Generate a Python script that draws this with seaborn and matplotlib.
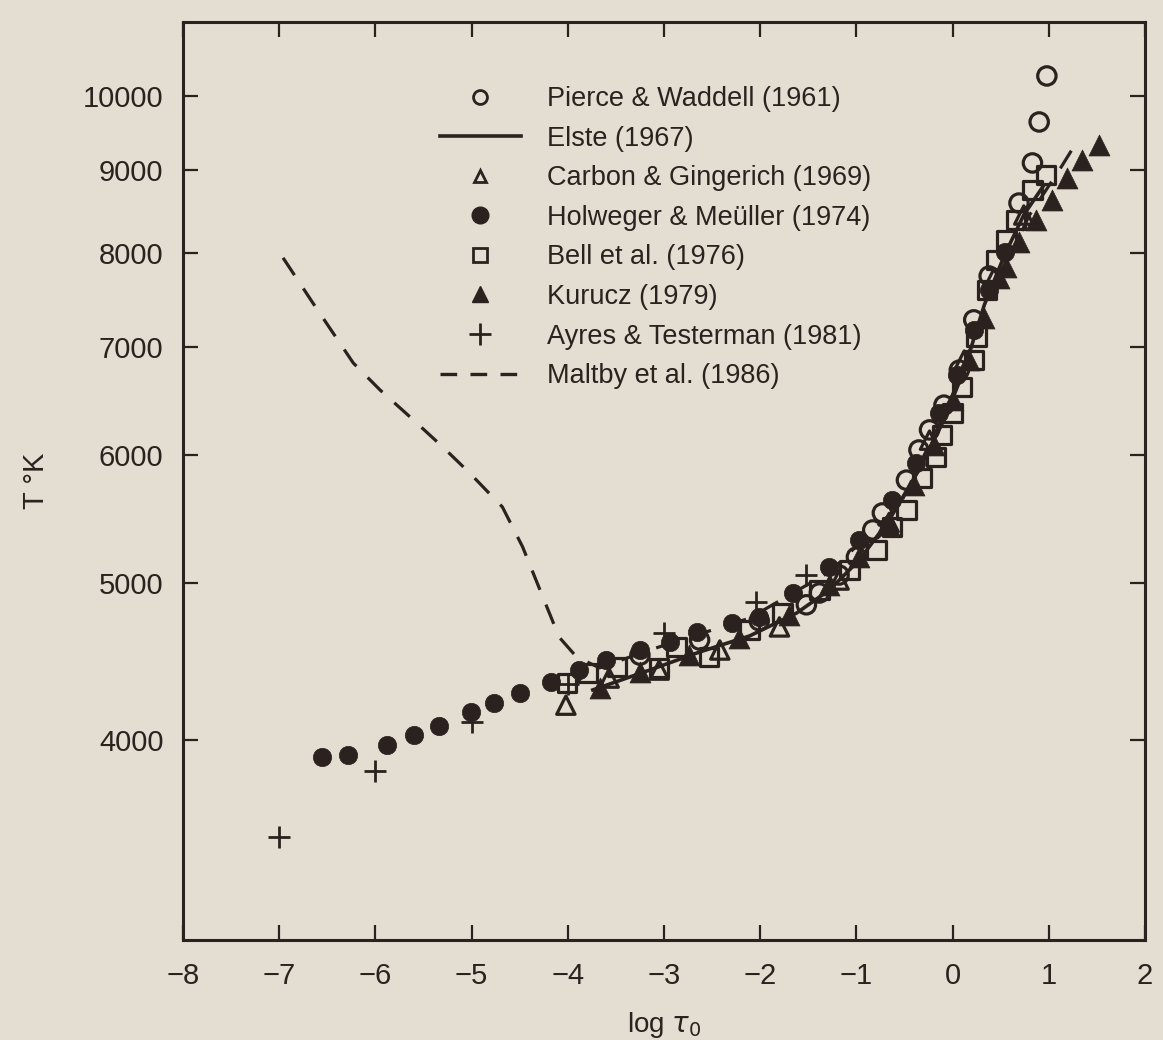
import numpy as np
import pandas as pd
import seaborn as sns
import matplotlib
matplotlib.use("Agg")
import matplotlib.pyplot as plt
from matplotlib.lines import Line2D
from matplotlib.ticker import NullLocator

# ---------------- data (log tau_0, T in K) ----------------
pw_x = [-3.25, -2.63, -2.01, -1.52, -1.385, -1.18, -1.0, -0.83, -0.73, -0.48, -0.35, -0.24,
        -0.09, 0.07, 0.22, 0.38, 0.69, 0.83, 0.90, 0.98]
pw_T = [4513, 4611, 4739, 4848, 4930, 5058, 5189, 5393, 5525, 5789, 6043, 6218,
        6441, 6770, 7272, 7740, 8587, 9091, 9637, 10289]

elste_x = [-3.74, -3.15, -2.63, -2.11, -1.62, -1.28, -0.97, -0.66, -0.35, -0.09, 0.12, 0.33,
           0.54, 0.74, 0.95]
elste_T = [4295, 4418, 4533, 4638, 4792, 4952, 5167, 5469, 5873, 6306, 6771, 7429,
           7975, 8443, 8810]

cg_x = [-4.02, -3.57, -3.05, -2.42, -1.80, -1.18, -0.66, -0.24, 0.12, 0.43, 0.74]
cg_T = [4203, 4368, 4418, 4546, 4698, 5022, 5450, 6128, 6867, 7718, 8442]

hm_x = [-6.55, -6.29, -5.88, -5.60, -5.34, -5.01, -4.77, -4.50, -4.17, -3.88, -3.60, -3.25,
        -2.94, -2.66, -2.29, -2.01, -1.66, -1.28, -0.97, -0.63, -0.38, -0.14, 0.05, 0.22,
        0.38, 0.54]
hm_T = [3905, 3915, 3971, 4029, 4080, 4165, 4215, 4274, 4345, 4418, 4481, 4546,
        4599, 4665, 4725, 4766, 4930, 5116, 5316, 5627, 5935, 6369, 6722, 7167,
        7587, 8010]

bell_x = [-4.01, -3.79, -3.49, -3.05, -2.87, -2.53, -2.11, -1.77, -1.385, -1.07, -0.79, -0.63,
          -0.48, -0.32, -0.17, -0.11, 0.00, 0.10, 0.22, 0.25, 0.36, 0.45, 0.56, 0.66,
          0.83, 0.97]
bell_T = [4337, 4399, 4437, 4430, 4565, 4500, 4678, 4792, 4951, 5094, 5241, 5415,
          5548, 5807, 5984, 6174, 6370, 6610, 6867, 7100, 7587, 7920, 8145, 8382,
          8750, 8935]

kur_x = [-3.67, -3.25, -2.74, -2.22, -1.70, -1.28, -0.97, -0.66, -0.40, -0.19, 0.00, 0.17,
         0.33, 0.48, 0.56, 0.69, 0.87, 1.03, 1.19, 1.35, 1.52]
kur_T = [4306, 4405, 4513, 4624, 4779, 4987, 5189, 5431, 5748, 6085, 6487, 6867,
         7290, 7718, 7839, 8123, 8382, 8624, 8898, 9129, 9326]

at_x = [-7.0, -6.0, -5.0, -4.0, -3.0, -2.04, -1.52]
at_T = [3485, 3826, 4103, 4330, 4657, 4868, 5058]

maltby_x = [-6.96, -6.65, -6.23, -5.95, -5.64, -5.30, -5.02, -4.68, -4.47, -4.26, -4.09, -3.91,
            -3.67, -3.15, -2.11, -1.28, -0.55, -0.04, 0.38, 0.80, 1.11, 1.29]
maltby_T = [7943, 7449, 6839, 6580, 6334, 6069, 5848, 5572, 5265, 4903, 4630, 4502,
            4432, 4546, 4757, 5080, 5587, 6442, 7479, 8443, 9001, 9366]

legend_labels = ["Pierce & Waddell (1961)", "Elste (1967)", "Carbon & Gingerich (1969)",
                 "Holweger & Meüller (1974)", "Bell et al. (1976)", "Kurucz (1979)",
                 "Ayres & Testerman (1981)", "Maltby et al. (1986)"]

x_ticks = [-8, -7, -6, -5, -4, -3, -2, -1, 0, 1, 2]
y_ticks = [4000, 5000, 6000, 7000, 8000, 9000, 10000]

# ---------------- style ----------------
INK = "#2b211e"
PAPER = "#e3ddd2"
plt.rcParams["font.family"] = ["Liberation Sans", "DejaVu Sans"]
plt.rcParams["mathtext.fontset"] = "dejavusans"

fig = plt.figure(figsize=(11.63, 10.40), dpi=100, facecolor=PAPER)
ax = fig.add_axes([183 / 1163, 100 / 1040, 962 / 1163, 918 / 1040])
ax.set_facecolor(PAPER)

def df(x, y):
    return pd.DataFrame({"logtau": x, "T": y})

MS = 175  # scatter size (pt^2)
LW_M = 2.3

# lines
sns.lineplot(data=df(elste_x, elste_T), x="logtau", y="T", sort=False, estimator=None,
             color=INK, linewidth=2.6, ax=ax, zorder=3)
sns.lineplot(data=df(maltby_x, maltby_T), x="logtau", y="T", sort=False, estimator=None,
             color=INK, linewidth=2.3, linestyle=(0, (6.5, 5.0)), ax=ax, zorder=3)

# markers
sns.scatterplot(data=df(bell_x, bell_T), x="logtau", y="T", marker="s", s=MS,
                color=INK, facecolors="none", edgecolor=INK, linewidth=LW_M, ax=ax, zorder=4)
sns.scatterplot(data=df(pw_x, pw_T), x="logtau", y="T", marker="o", s=MS,
                color=INK, facecolors="none", edgecolor=INK, linewidth=LW_M, ax=ax, zorder=4)
sns.scatterplot(data=df(cg_x, cg_T), x="logtau", y="T", marker="^", s=MS,
                color=INK, facecolors="none", edgecolor=INK, linewidth=LW_M, ax=ax, zorder=4)
sns.scatterplot(data=df(hm_x, hm_T), x="logtau", y="T", marker="o", s=MS,
                color=INK, edgecolor=INK, linewidth=0.5, ax=ax, zorder=5)
sns.scatterplot(data=df(kur_x, kur_T), x="logtau", y="T", marker="^", s=MS * 1.3,
                color=INK, edgecolor=INK, linewidth=0.5, ax=ax, zorder=5)
sns.scatterplot(data=df(at_x, at_T), x="logtau", y="T", marker="+", s=MS * 1.5,
                color=INK, linewidth=2.0, ax=ax, zorder=5)

# axes
ax.set_yscale("log")
ax.set_xlim(-8, 2)
ax.set_ylim(3009, 11110)
ax.set_xticks(x_ticks)
ax.set_xticklabels([("\u2212%d" % -v if v < 0 else str(v)) for v in x_ticks])
ax.set_yticks(y_ticks)
ax.set_yticklabels([str(v) for v in y_ticks])
ax.yaxis.set_minor_locator(NullLocator())
ax.xaxis.set_minor_locator(NullLocator())
ax.tick_params(axis="both", which="major", direction="in", length=11, width=1.6,
               color=INK, labelcolor=INK, labelsize=21, top=True, right=True)
ax.tick_params(axis="y", pad=14)
ax.tick_params(axis="x", pad=16)
for sp in ax.spines.values():
    sp.set_color(INK)
    sp.set_linewidth(2.2)

ax.set_xlabel(r"log $\tau_0$", fontsize=20, color=INK, labelpad=14)
ax.set_ylabel("T \u00b0K", fontsize=21, color=INK, labelpad=24)

# legend
handles = [
    Line2D([], [], ls="none", marker="o", ms=10, mfc="none", mec=INK, mew=2.0),
    Line2D([], [], color=INK, lw=2.6),
    Line2D([], [], ls="none", marker="^", ms=9, mfc="none", mec=INK, mew=2.0),
    Line2D([], [], ls="none", marker="o", ms=12, mfc=INK, mec=INK),
    Line2D([], [], ls="none", marker="s", ms=10, mfc="none", mec=INK, mew=2.0),
    Line2D([], [], ls="none", marker="^", ms=12, mfc=INK, mec=INK),
    Line2D([], [], ls="none", marker="+", ms=16, mec=INK, mew=2.0),
    Line2D([], [], color=INK, lw=2.4, ls=(0, (5.0, 4.0))),
]
leg = ax.legend(handles, legend_labels, loc="upper left", bbox_to_anchor=(0.267, 0.930),
                frameon=False, fontsize=19.5, handlelength=3.0, handletextpad=0.95,
                labelspacing=0.50, borderpad=0, borderaxespad=0, labelcolor=INK)

fig.savefig("out.png", dpi=100, facecolor=PAPER)
